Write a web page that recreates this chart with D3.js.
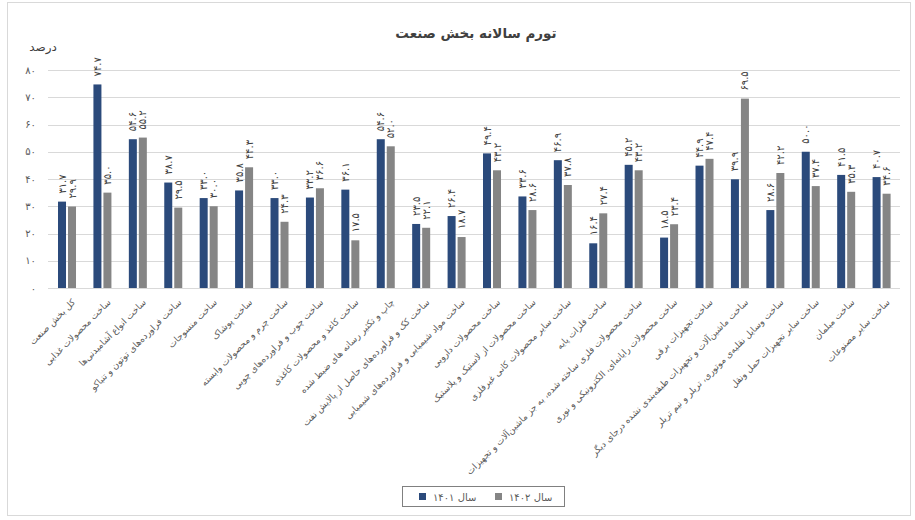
<!DOCTYPE html>
<html>
<head>
<meta charset="utf-8">
<script src="https://cdn.jsdelivr.net/npm/d3@7"></script>
<style>
  body { margin: 0; background: #fff; }
  text { font-family: "DejaVu Sans", sans-serif; }
</style>
</head>
<body>
<div id="stage"></div>
<script>
(function(d3) {
    'use strict';

    var categories = [
        'کل بخش صنعت',
        'ساخت محصولات غذایی',
        'ساخت انواع آشامیدنی‌ها',
        'ساخت فراورده‌های توتون و تنباکو',
        'ساخت منسوجات',
        'ساخت پوشاک',
        'ساخت چرم و محصولات وابسته',
        'ساخت چوب و فراورده‌های چوبی',
        'ساخت کاغذ و محصولات کاغذی',
        'چاپ و تکثیر رسانه های ضبط شده',
        'ساخت کک و فراورده‌های حاصل از پالایش نفت',
        'ساخت مواد شیمیایی و فراورده‌های شیمیایی',
        'ساخت محصولات دارویی',
        'ساخت محصولات از لاستیک و پلاستیک',
        'ساخت سایر محصولات کانی غیرفلزی',
        'ساخت فلزات پایه',
        'ساخت محصولات فلزی ساخته شده، به جز ماشین‌آلات و تجهیزات',
        'ساخت محصولات رایانه‌ای، الکترونیکی و نوری',
        'ساخت تجهیزات برقی',
        'ساخت ماشین‌آلات و تجهیزات طبقه‌بندی نشده درجای دیگر',
        'ساخت وسایل نقلیه‌ی موتوری، تریلر و نیم تریلر',
        'ساخت سایر تجهیزات حمل ونقل',
        'ساخت مبلمان',
        'ساخت سایر مصنوعات'
    ];

    var values1401 = [31.7, 74.7, 54.6, 38.7, 33.0, 35.8, 33.0, 33.2, 36.1, 54.6, 23.5, 26.4,
                      49.4, 33.6, 46.9, 16.4, 45.2, 18.5, 44.9, 39.9, 28.6, 50.0, 41.5, 40.7];
    var values1402 = [29.9, 35.0, 55.2, 29.5, 30.0, 44.3, 24.3, 36.6, 17.5, 52.0, 22.1, 18.7,
                      43.2, 28.6, 37.8, 27.4, 43.2, 23.4, 47.4, 69.5, 42.2, 37.4, 35.3, 34.6];

    var seriesNames = ['سال ۱۴۰۱', 'سال ۱۴۰۲'];
    var seriesKeys = ['1401', '1402'];
    var seriesColors = ['#2b4a7b', '#858585'];
    var yTicks = [0, 10, 20, 30, 40, 50, 60, 70, 80];

    var width = 915, height = 520;

    function fa(s) {
        return String(s).replace(/\d/g, function(c) { return '۰۱۲۳۴۵۶۷۸۹'[+c]; });
    }

    var rows = categories.map(function(c, i) {
        return { cat: c, vals: [values1401[i], values1402[i]] };
    });

    var svg = d3.select('#stage')
        .append('svg')
        .attr('width', width)
        .attr('height', height);

    // chart frame
    svg.append('rect')
        .attr('x', 7.5).attr('y', 2.5)
        .attr('width', 903).attr('height', 513)
        .style('fill', '#fff')
        .style('stroke', '#d9d9d9');

    var x0 = d3.scaleBand()
        .domain(categories)
        .range([49.3, 899.3]);

    var step = x0.step();
    var x1 = d3.scaleBand()
        .domain(seriesKeys)
        .range([step / 2 - 9, step / 2 + 9])
        .paddingInner(0.2);

    var y = d3.scaleLinear()
        .domain([0, 80])
        .range([288, 70]);

    // gridlines
    svg.append('g')
        .selectAll('line')
        .data(yTicks)
        .enter()
        .append('line')
        .attr('x1', 48).attr('x2', 900)
        .attr('y1', function(d) { return Math.round(y(d)) + 0.5; })
        .attr('y2', function(d) { return Math.round(y(d)) + 0.5; })
        .style('stroke', '#d9d9d9')
        .style('stroke-width', 1);

    // y tick labels
    svg.append('g')
        .selectAll('text')
        .data(yTicks)
        .enter()
        .append('text')
        .attr('x', 36)
        .attr('y', function(d) { return y(d); })
        .attr('dy', '0.35em')
        .attr('text-anchor', 'end')
        .style('font-size', '10px')
        .style('fill', '#595959')
        .text(function(d) { return fa(d); });

    svg.append('text')
        .attr('x', 43).attr('y', 51)
        .attr('text-anchor', 'middle')
        .style('font-size', '12px')
        .style('fill', '#404040')
        .text('درصد');

    // title
    svg.append('text')
        .attr('x', 476).attr('y', 38)
        .attr('text-anchor', 'middle')
        .style('font-size', '13.5px')
        .style('font-weight', 'bold')
        .style('fill', '#404040')
        .text('تورم سالانه بخش صنعت');

    var groups = svg.selectAll('.group')
        .data(rows)
        .enter()
        .append('g')
        .attr('class', 'group')
        .attr('transform', function(d) { return 'translate(' + x0(d.cat) + ',0)'; });

    var bars = groups.selectAll('.bar')
        .data(function(d) {
            return d.vals.map(function(v, j) { return { key: seriesKeys[j], value: v, j: j }; });
        })
        .enter();

    bars.append('rect')
        .attr('class', 'bar')
        .attr('x', function(d) { return x1(d.key); })
        .attr('width', x1.bandwidth())
        .attr('y', function(d) { return y(d.value); })
        .attr('height', function(d) { return y(0) - y(d.value); })
        .style('fill', function(d) { return seriesColors[d.j]; });

    bars.append('text')
        .attr('transform', function(d) {
            return 'translate(' + (x1(d.key) + x1.bandwidth() / 2) + ',' + (y(d.value) - 8) + ') rotate(-90)';
        })
        .attr('dy', '0.35em')
        .attr('text-anchor', 'start')
        .style('font-size', '10px')
        .style('fill', '#404040')
        .text(function(d) { return fa(d.value.toFixed(1)); });

    // category labels
    svg.append('g')
        .selectAll('text')
        .data(categories)
        .enter()
        .append('text')
        .attr('transform', function(d) {
            return 'translate(' + (x0(d) + step / 2 + 5) + ',299) rotate(-45)';
        })
        .attr('dy', '0.6em')
        .attr('text-anchor', 'end')
        .style('font-size', '9px')
        .style('fill', '#595959')
        .text(function(d) { return d; });

    // legend
    var legend = svg.append('g');
    legend.append('rect')
        .attr('x', 402.5).attr('y', 486.5)
        .attr('width', 162).attr('height', 20)
        .style('fill', 'none')
        .style('stroke', '#808080');

    var legendX = [419, 495];
    var items = legend.selectAll('.item')
        .data(seriesNames)
        .enter()
        .append('g')
        .attr('class', 'item')
        .attr('transform', function(d, i) { return 'translate(' + legendX[i] + ',493)'; });

    items.append('rect')
        .attr('width', 7).attr('height', 7)
        .style('fill', function(d, i) { return seriesColors[i]; });

    items.append('text')
        .attr('x', 14).attr('y', 4)
        .attr('dy', '0.35em')
        .style('font-size', '10px')
        .style('fill', '#595959')
        .text(function(d) { return d; });

})(window.d3);
</script>
</body>
</html>
